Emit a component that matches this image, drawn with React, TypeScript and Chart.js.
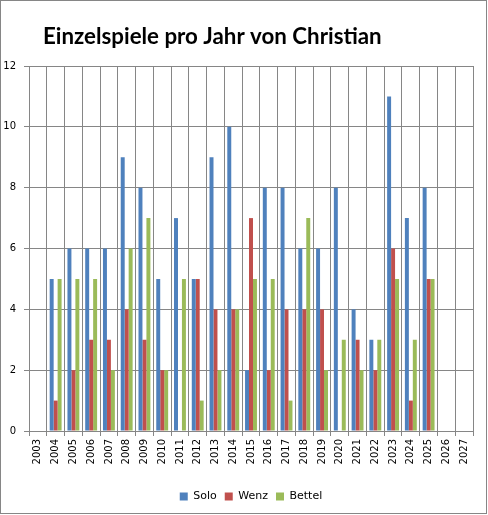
import { useEffect, useRef } from 'react';
import { Chart, registerables } from 'chart.js';

Chart.register(...registerables);

const years = [
  '2003', '2004', '2005', '2006', '2007', '2008', '2009', '2010', '2011',
  '2012', '2013', '2014', '2015', '2016', '2017', '2018', '2019', '2020',
  '2021', '2022', '2023', '2024', '2025', '2026', '2027',
];
const solo = [0, 5, 6, 6, 6, 9, 8, 5, 7, 5, 9, 10, 2, 8, 8, 6, 6, 8, 4, 3, 11, 7, 8, 0, 0];
const wenz = [0, 1, 2, 3, 3, 4, 3, 2, 0, 5, 4, 4, 7, 2, 4, 4, 4, 0, 3, 2, 6, 1, 5, 0, 0];
const bettel = [0, 5, 5, 5, 2, 6, 7, 2, 5, 1, 2, 4, 5, 5, 1, 7, 2, 3, 2, 3, 5, 3, 5, 0, 0];

const chartTitle = 'Einzelspiele pro Jahr von Christian';
const gridColor = '#868686';

// Titel links oben, wie im Excel-Diagramm
const titleAndFrame = {
  id: 'titleAndFrame',
  afterDraw(chart: Chart) {
    const ctx = chart.ctx;
    ctx.save();
    ctx.strokeStyle = gridColor;
    ctx.lineWidth = 1;
    ctx.strokeRect(0.5, 0.5, 486, 513);
    ctx.fillStyle = '#000';
    ctx.font = 'bold 22.3px Lato';
    ctx.textBaseline = 'alphabetic';
    ctx.textAlign = 'left';
    ctx.fillText(chartTitle, 43, 44);
    ctx.restore();
  },
};

export default function App() {
  const canvasRef = useRef<HTMLCanvasElement>(null);
  const chartRef = useRef<Chart | null>(null);

  useEffect(() => {
    if (!canvasRef.current) return;
    if (chartRef.current) chartRef.current.destroy();

    chartRef.current = new Chart(canvasRef.current, {
      type: 'bar',
      data: {
        labels: years,
        datasets: [
          { label: 'Solo', data: solo, backgroundColor: '#4F81BD' },
          { label: 'Wenz', data: wenz, backgroundColor: '#C0504D' },
          { label: 'Bettel', data: bettel, backgroundColor: '#9BBB59' },
        ],
      },
      options: {
        responsive: false,
        animation: false,
        datasets: {
          bar: { categoryPercentage: 0.67, barPercentage: 1, borderWidth: 0 },
        },
        layout: { padding: { top: 66, left: 0, right: 15, bottom: 3 } },
        scales: {
          x: {
            grid: { offset: true, color: gridColor, tickLength: 5 },
            border: { color: gridColor },
            ticks: {
              minRotation: 90,
              maxRotation: 90,
              padding: 3,
              color: '#000',
              font: { family: 'DejaVu Sans', size: 10 },
            },
            afterFit: (scale: any) => {
              scale.height = 52;
            },
          },
          y: {
            min: 0,
            max: 12,
            ticks: {
              stepSize: 2,
              padding: 8,
              color: '#000',
              font: { family: 'DejaVu Sans', size: 10 },
            },
            grid: { color: gridColor, tickLength: 5 },
            border: { color: gridColor },
            afterFit: (scale: any) => {
              scale.width = 29;
            },
          },
        },
        plugins: {
          legend: {
            position: 'bottom',
            fullSize: false,
            labels: {
              boxWidth: 8,
              boxHeight: 8,
              padding: 8,
              color: '#000',
              font: { family: 'DejaVu Sans', size: 11 },
            },
          },
          tooltip: { enabled: false },
        },
      },
      plugins: [titleAndFrame],
    });

    return () => {
      if (chartRef.current) {
        chartRef.current.destroy();
        chartRef.current = null;
      }
    };
  }, []);

  return (
    <div style={{ position: 'absolute', left: 0, top: 0, width: 488, height: 515, background: '#fff' }}>
      <canvas ref={canvasRef} width={488} height={515}></canvas>
    </div>
  );
}
